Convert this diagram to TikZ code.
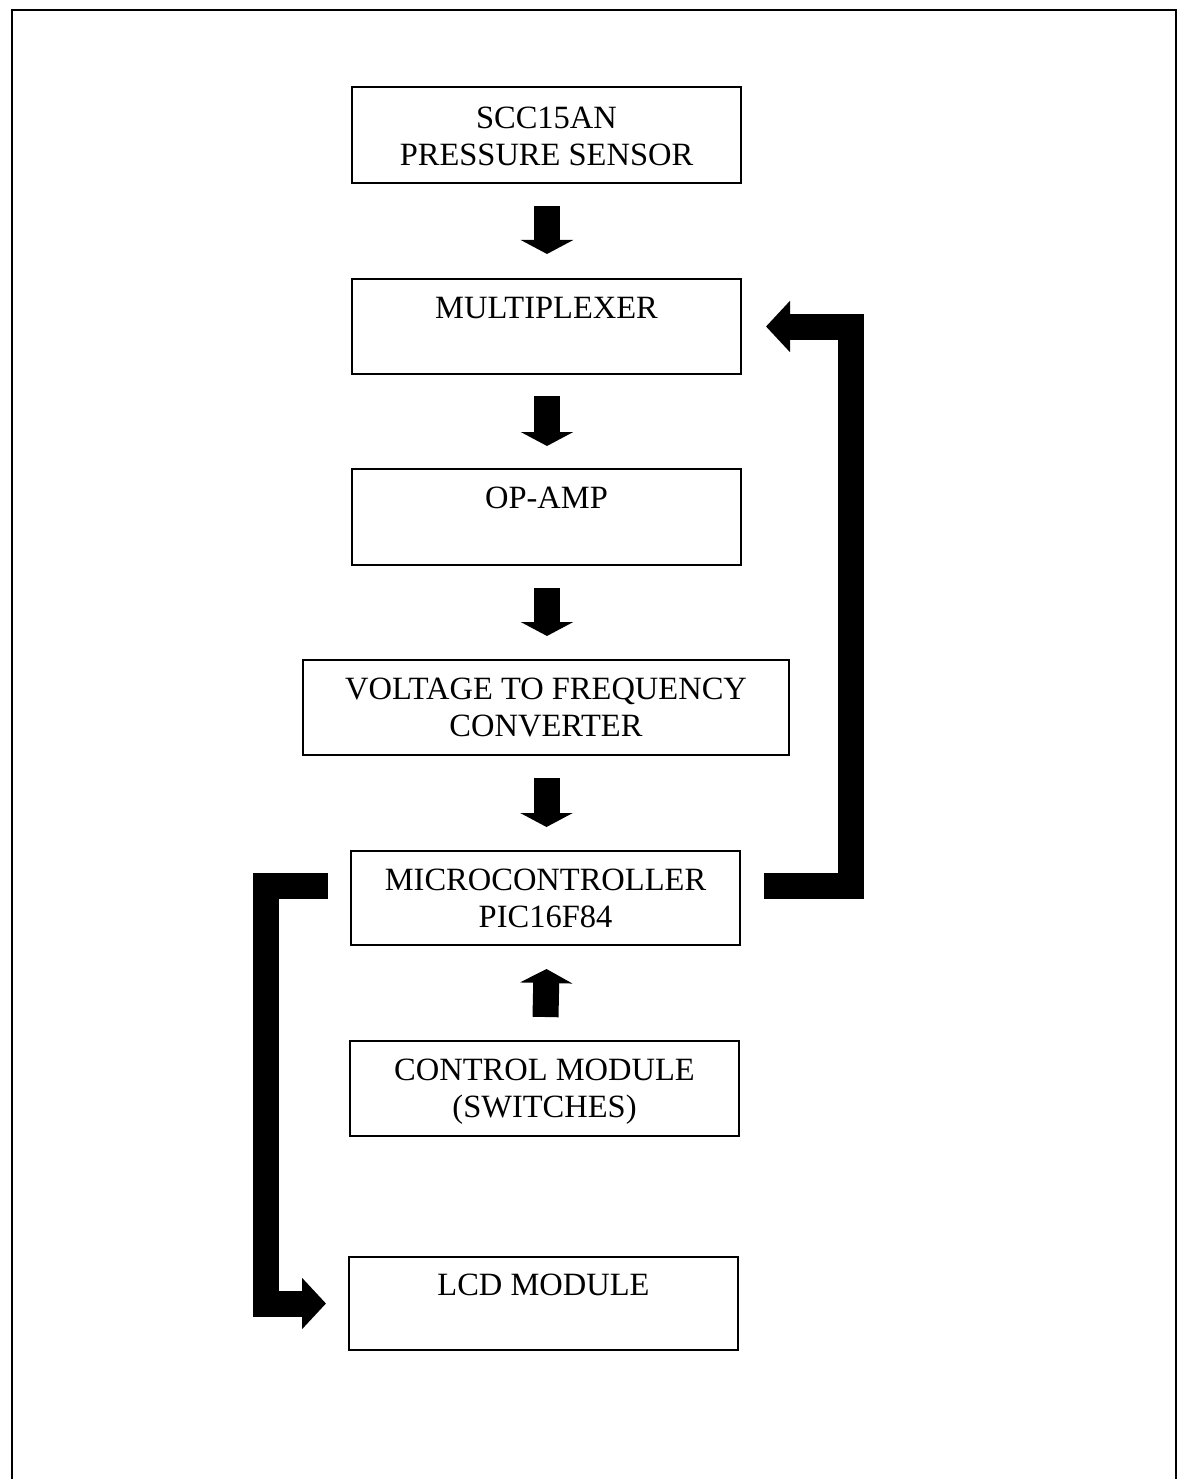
\documentclass[tikz,border=0pt]{standalone}
\usepackage{fontspec}
\setmainfont{Liberation Serif}
\usetikzlibrary{arrows.meta,calc}
\begin{document}
\begin{tikzpicture}[x=1pt,y=-1pt,
  blk/.style={draw=black,line width=2pt,rectangle,inner sep=0pt,minimum height=95pt},
  lbl/.style={anchor=north,inner sep=0pt,align=center,font=\fontsize{32.5}{37}\selectfont},
  dnarrow/.style={line width=26pt,-{Triangle[width=52pt 0 0,length=14pt 0 0]}},
  bigarrow/.style={line width=26pt,line join=miter,-{Triangle[width=50pt 0 0,length=24pt 0 0]}}
]
\useasboundingbox (0,0) rectangle (1181,1479);
\draw[line width=2.5pt] (12,1490) -- (12,10) -- (1176,10) -- (1176,1490);

\node[blk,minimum width=389pt,minimum height=96pt] (b1) at (546.5,135) {};
\node[blk,minimum width=389pt] (b2) at (546.5,326.5) {};
\node[blk,minimum width=389pt,minimum height=96pt] (b3) at (546.5,517) {};
\node[blk,minimum width=486pt] (b4) at (546,707.5) {};
\node[blk,minimum width=389pt,minimum height=94pt] (b5) at (545.5,898) {};
\node[blk,minimum width=389pt] (b6) at (544.5,1088.5) {};
\node[blk,minimum width=389pt,minimum height=93pt] (b7) at (543.5,1303.5) {};

\node[lbl] (t1) at ($(b1.north)+(0,21)$) {SCC15AN\\PRESSURE SENSOR};
\node[lbl] (t2) at ($(b2.north)+(0,19)$) {MULTIPLEXER};
\node[lbl] (t3) at ($(b3.north)+(0,19)$) {OP-AMP};
\node[lbl] (t4) at ($(b4.north)+(0,19)$) {VOLTAGE TO FREQUENCY\\CONVERTER};
\node[lbl] (t5) at ($(b5.north)+(0,19)$) {MICROCONTROLLER\\PIC16F84};
\node[lbl] (t6) at ($(b6.north)+(0,19)$) {CONTROL MODULE\\(SWITCHES)};
\node[lbl] (t7) at ($(b7.north)+(0,18)$) {LCD MODULE};

\draw[dnarrow] ($(b1.south)+(0.5,22)$) -- ($(b2.north)+(0.5,-24)$);
\draw[dnarrow] ($(b2.south)+(0.5,21)$) -- ($(b3.north)+(0.5,-22)$);
\draw[dnarrow] ($(b3.south)+(0.5,22)$) -- ($(b4.north)+(1,-23)$);
\draw[dnarrow] ($(b4.south)+(0.5,22)$) -- ($(b5.north)+(1,-23)$);
\draw[dnarrow] ($(b6.north)+(1,-23)$) -- ($(b5.south)+(1,23)$);

\coordinate (r1) at ($(b5.east)+(23,-12.5)$);
\coordinate (r2) at ($(b2.east)+(24,0)$);
\draw[bigarrow] (r1) -- ++(86.5,0) |- (r2);

\coordinate (l1) at ($(b5.west)+(-22,-12.5)$);
\coordinate (l2) at ($(b7.west)+(-22,0)$);
\draw[bigarrow] (l1) -- ++(-62.5,0) |- (l2);
\end{tikzpicture}
\end{document}
